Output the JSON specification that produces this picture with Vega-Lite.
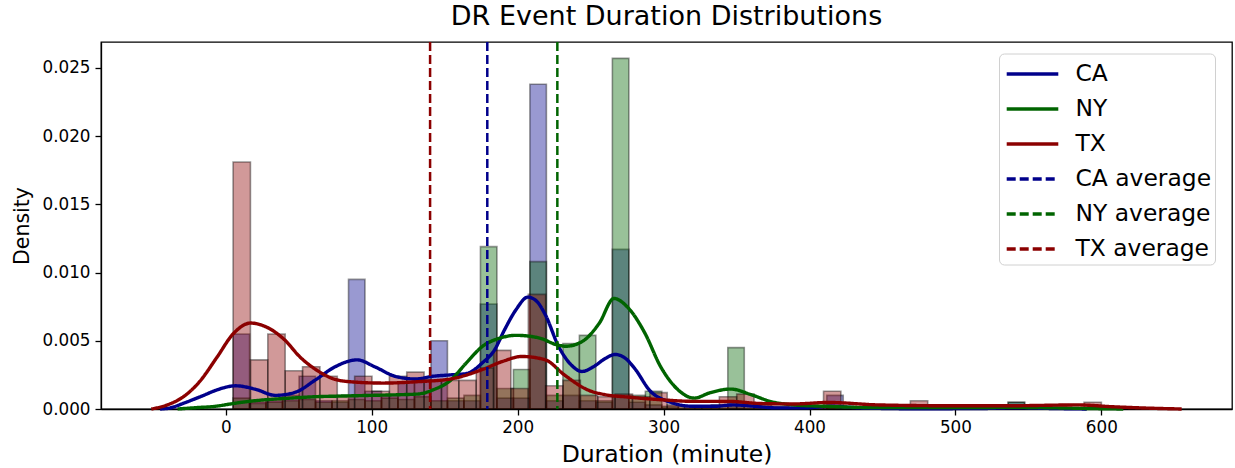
{
  "$schema": "https://vega.github.io/schema/vega-lite/v6.json",
  "width": 1131,
  "height": 367,
  "autosize": {"type": "none"},
  "padding": {"left": 101, "top": 42, "right": 3, "bottom": 59},
  "background": "white",
  "title": {"text": "DR Event Duration Distributions", "fontSize": 27, "font": "DejaVu Sans", "fontWeight": "normal", "color": "black", "anchor": "middle", "offset": 10},
  "config": {
    "view": {"stroke": "black", "strokeWidth": 1.3},
    "axis": {"grid": false, "domainColor": "black", "domainWidth": 1.3, "tickColor": "black", "tickWidth": 1.3, "tickSize": 6, "labelFont": "DejaVu Sans", "labelFontSize": 16.8, "labelColor": "black", "titleFont": "DejaVu Sans", "titleFontWeight": "normal", "titleColor": "black"},
    "legend": {"labelFont": "DejaVu Sans"}
  },
  "datasets": {
    "bars": [
      {"series": "CA", "lo": 5.0, "hi": 16.3, "density": 0.0055},
      {"series": "CA", "lo": 16.3, "hi": 27.6, "density": 0.0005},
      {"series": "CA", "lo": 27.6, "hi": 38.9, "density": 0.0006},
      {"series": "CA", "lo": 38.9, "hi": 50.2, "density": 0.0010},
      {"series": "CA", "lo": 50.2, "hi": 61.5, "density": 0.0024},
      {"series": "CA", "lo": 61.5, "hi": 72.8, "density": 0.0006},
      {"series": "CA", "lo": 72.8, "hi": 84.1, "density": 0.0005},
      {"series": "CA", "lo": 84.1, "hi": 95.4, "density": 0.0095},
      {"series": "CA", "lo": 95.4, "hi": 106.7, "density": 0.0013},
      {"series": "CA", "lo": 106.7, "hi": 118.0, "density": 0.0010},
      {"series": "CA", "lo": 118.0, "hi": 129.3, "density": 0.0020},
      {"series": "CA", "lo": 129.3, "hi": 140.6, "density": 0.0022},
      {"series": "CA", "lo": 140.6, "hi": 151.9, "density": 0.0050},
      {"series": "CA", "lo": 151.9, "hi": 163.2, "density": 0.0006},
      {"series": "CA", "lo": 163.2, "hi": 174.5, "density": 0.0006},
      {"series": "CA", "lo": 174.5, "hi": 185.8, "density": 0.0077},
      {"series": "CA", "lo": 185.8, "hi": 197.1, "density": 0.0008},
      {"series": "CA", "lo": 197.1, "hi": 208.4, "density": 0.0008},
      {"series": "CA", "lo": 208.4, "hi": 219.7, "density": 0.0238},
      {"series": "CA", "lo": 219.7, "hi": 231.0, "density": 0.0006},
      {"series": "CA", "lo": 231.0, "hi": 242.3, "density": 0.0010},
      {"series": "CA", "lo": 242.3, "hi": 253.6, "density": 0.0006},
      {"series": "CA", "lo": 253.6, "hi": 264.9, "density": 0.0005},
      {"series": "CA", "lo": 264.9, "hi": 276.2, "density": 0.0117},
      {"series": "CA", "lo": 276.2, "hi": 287.5, "density": 0.0005},
      {"series": "CA", "lo": 287.5, "hi": 298.8, "density": 0.0003},
      {"series": "CA", "lo": 298.8, "hi": 310.1, "density": 0.0001},
      {"series": "CA", "lo": 344.0, "hi": 355.3, "density": 0.0003},
      {"series": "CA", "lo": 411.8, "hi": 423.1, "density": 0.0010},
      {"series": "CA", "lo": 536.1, "hi": 547.4, "density": 0.0005},
      {"series": "NY", "lo": 5.0, "hi": 16.3, "density": 0.0008},
      {"series": "NY", "lo": 16.3, "hi": 27.6, "density": 0.0004},
      {"series": "NY", "lo": 27.6, "hi": 38.9, "density": 0.0005},
      {"series": "NY", "lo": 38.9, "hi": 50.2, "density": 0.0006},
      {"series": "NY", "lo": 50.2, "hi": 61.5, "density": 0.0007},
      {"series": "NY", "lo": 61.5, "hi": 72.8, "density": 0.0005},
      {"series": "NY", "lo": 72.8, "hi": 84.1, "density": 0.0006},
      {"series": "NY", "lo": 84.1, "hi": 95.4, "density": 0.0007},
      {"series": "NY", "lo": 95.4, "hi": 106.7, "density": 0.0006},
      {"series": "NY", "lo": 106.7, "hi": 118.0, "density": 0.0008},
      {"series": "NY", "lo": 118.0, "hi": 129.3, "density": 0.0007},
      {"series": "NY", "lo": 129.3, "hi": 140.6, "density": 0.0009},
      {"series": "NY", "lo": 140.6, "hi": 151.9, "density": 0.0006},
      {"series": "NY", "lo": 151.9, "hi": 163.2, "density": 0.0008},
      {"series": "NY", "lo": 163.2, "hi": 174.5, "density": 0.0010},
      {"series": "NY", "lo": 174.5, "hi": 185.8, "density": 0.0119},
      {"series": "NY", "lo": 185.8, "hi": 197.1, "density": 0.0015},
      {"series": "NY", "lo": 197.1, "hi": 208.4, "density": 0.0029},
      {"series": "NY", "lo": 208.4, "hi": 219.7, "density": 0.0108},
      {"series": "NY", "lo": 219.7, "hi": 231.0, "density": 0.0010},
      {"series": "NY", "lo": 231.0, "hi": 242.3, "density": 0.0048},
      {"series": "NY", "lo": 242.3, "hi": 253.6, "density": 0.0054},
      {"series": "NY", "lo": 253.6, "hi": 264.9, "density": 0.0006},
      {"series": "NY", "lo": 264.9, "hi": 276.2, "density": 0.0257},
      {"series": "NY", "lo": 276.2, "hi": 287.5, "density": 0.0010},
      {"series": "NY", "lo": 287.5, "hi": 298.8, "density": 0.0013},
      {"series": "NY", "lo": 298.8, "hi": 310.1, "density": 0.0002},
      {"series": "NY", "lo": 310.1, "hi": 321.4, "density": 0.0002},
      {"series": "NY", "lo": 321.4, "hi": 332.7, "density": 0.0002},
      {"series": "NY", "lo": 332.7, "hi": 344.0, "density": 0.0003},
      {"series": "NY", "lo": 344.0, "hi": 355.3, "density": 0.0045},
      {"series": "NY", "lo": 355.3, "hi": 366.6, "density": 0.0003},
      {"series": "NY", "lo": 366.6, "hi": 377.9, "density": 0.0001},
      {"series": "NY", "lo": 411.8, "hi": 423.1, "density": 0.0002},
      {"series": "NY", "lo": 536.1, "hi": 547.4, "density": 0.0005},
      {"series": "TX", "lo": 5.0, "hi": 16.9, "density": 0.0181},
      {"series": "TX", "lo": 16.9, "hi": 28.8, "density": 0.0036},
      {"series": "TX", "lo": 28.8, "hi": 40.7, "density": 0.0055},
      {"series": "TX", "lo": 40.7, "hi": 52.6, "density": 0.0028},
      {"series": "TX", "lo": 52.6, "hi": 64.5, "density": 0.0031},
      {"series": "TX", "lo": 64.5, "hi": 76.4, "density": 0.0024},
      {"series": "TX", "lo": 76.4, "hi": 88.3, "density": 0.0010},
      {"series": "TX", "lo": 88.3, "hi": 100.2, "density": 0.0024},
      {"series": "TX", "lo": 100.2, "hi": 112.1, "density": 0.0013},
      {"series": "TX", "lo": 112.1, "hi": 124.0, "density": 0.0024},
      {"series": "TX", "lo": 124.0, "hi": 135.9, "density": 0.0027},
      {"series": "TX", "lo": 135.9, "hi": 147.8, "density": 0.0021},
      {"series": "TX", "lo": 147.8, "hi": 159.7, "density": 0.0021},
      {"series": "TX", "lo": 159.7, "hi": 171.6, "density": 0.0021},
      {"series": "TX", "lo": 171.6, "hi": 183.5, "density": 0.0030},
      {"series": "TX", "lo": 183.5, "hi": 195.4, "density": 0.0043},
      {"series": "TX", "lo": 195.4, "hi": 207.3, "density": 0.0015},
      {"series": "TX", "lo": 207.3, "hi": 219.2, "density": 0.0084},
      {"series": "TX", "lo": 219.2, "hi": 231.1, "density": 0.0017},
      {"series": "TX", "lo": 231.1, "hi": 243.0, "density": 0.0021},
      {"series": "TX", "lo": 243.0, "hi": 254.9, "density": 0.0010},
      {"series": "TX", "lo": 254.9, "hi": 266.8, "density": 0.0009},
      {"series": "TX", "lo": 266.8, "hi": 278.7, "density": 0.0011},
      {"series": "TX", "lo": 278.7, "hi": 290.6, "density": 0.0009},
      {"series": "TX", "lo": 290.6, "hi": 302.5, "density": 0.0012},
      {"series": "TX", "lo": 302.5, "hi": 314.4, "density": 0.0003},
      {"series": "TX", "lo": 314.4, "hi": 326.3, "density": 0.0002},
      {"series": "TX", "lo": 326.3, "hi": 338.2, "density": 0.0002},
      {"series": "TX", "lo": 338.2, "hi": 350.1, "density": 0.0009},
      {"series": "TX", "lo": 350.1, "hi": 362.0, "density": 0.0011},
      {"series": "TX", "lo": 362.0, "hi": 373.9, "density": 0.0003},
      {"series": "TX", "lo": 373.9, "hi": 385.8, "density": 0.0002},
      {"series": "TX", "lo": 385.8, "hi": 397.7, "density": 0.0001},
      {"series": "TX", "lo": 397.7, "hi": 409.6, "density": 0.0002},
      {"series": "TX", "lo": 409.6, "hi": 421.5, "density": 0.0013},
      {"series": "TX", "lo": 421.5, "hi": 433.4, "density": 0.0001},
      {"series": "TX", "lo": 445.3, "hi": 457.2, "density": 0.0001},
      {"series": "TX", "lo": 469.1, "hi": 481.0, "density": 0.0006},
      {"series": "TX", "lo": 492.9, "hi": 504.8, "density": 0.0001},
      {"series": "TX", "lo": 516.7, "hi": 528.6, "density": 0.0001},
      {"series": "TX", "lo": 528.6, "hi": 540.5, "density": 0.0003},
      {"series": "TX", "lo": 540.5, "hi": 552.4, "density": 0.0002},
      {"series": "TX", "lo": 564.3, "hi": 576.2, "density": 0.0001},
      {"series": "TX", "lo": 588.1, "hi": 600.0, "density": 0.0005}
    ],
    "kde": [
      {"label": "CA", "x": -45, "density": 0.0},
      {"label": "CA", "x": -38, "density": 0.00008},
      {"label": "CA", "x": -28.5, "density": 0.00044},
      {"label": "CA", "x": -17, "density": 0.00092},
      {"label": "CA", "x": -6, "density": 0.0014},
      {"label": "CA", "x": 0, "density": 0.0016},
      {"label": "CA", "x": 7, "density": 0.0017},
      {"label": "CA", "x": 20, "density": 0.00146},
      {"label": "CA", "x": 34, "density": 0.0010},
      {"label": "CA", "x": 48, "density": 0.00124},
      {"label": "CA", "x": 61, "density": 0.0021},
      {"label": "CA", "x": 75, "density": 0.0031},
      {"label": "CA", "x": 90, "density": 0.0036},
      {"label": "CA", "x": 102, "density": 0.0031},
      {"label": "CA", "x": 116, "density": 0.0024},
      {"label": "CA", "x": 130, "density": 0.0022},
      {"label": "CA", "x": 142, "density": 0.0024},
      {"label": "CA", "x": 154, "density": 0.0025},
      {"label": "CA", "x": 165, "density": 0.0026},
      {"label": "CA", "x": 176, "density": 0.0034},
      {"label": "CA", "x": 184, "density": 0.0043},
      {"label": "CA", "x": 191, "density": 0.0058},
      {"label": "CA", "x": 199, "density": 0.0073},
      {"label": "CA", "x": 207, "density": 0.0082},
      {"label": "CA", "x": 213, "density": 0.0079},
      {"label": "CA", "x": 219, "density": 0.0069},
      {"label": "CA", "x": 228, "density": 0.0046},
      {"label": "CA", "x": 237, "density": 0.0032},
      {"label": "CA", "x": 244, "density": 0.00275},
      {"label": "CA", "x": 252, "density": 0.0031},
      {"label": "CA", "x": 260, "density": 0.0037},
      {"label": "CA", "x": 267, "density": 0.0040},
      {"label": "CA", "x": 274, "density": 0.0037},
      {"label": "CA", "x": 280, "density": 0.0030},
      {"label": "CA", "x": 291, "density": 0.0013},
      {"label": "CA", "x": 303, "density": 0.00056},
      {"label": "CA", "x": 320, "density": 0.0002},
      {"label": "CA", "x": 335, "density": 0.0002},
      {"label": "CA", "x": 348, "density": 0.0003},
      {"label": "CA", "x": 362, "density": 0.0002},
      {"label": "CA", "x": 378, "density": 0.00008},
      {"label": "CA", "x": 395, "density": 0.00008},
      {"label": "CA", "x": 415, "density": 0.0002},
      {"label": "CA", "x": 435, "density": 0.00008},
      {"label": "CA", "x": 470, "density": 0.00002},
      {"label": "CA", "x": 515, "density": 0.00003},
      {"label": "CA", "x": 541, "density": 0.00009},
      {"label": "CA", "x": 565, "density": 0.00004},
      {"label": "CA", "x": 590, "density": 0.0},
      {"label": "NY", "x": -33, "density": 0.0},
      {"label": "NY", "x": -20, "density": 0.0001},
      {"label": "NY", "x": -7, "density": 0.0002},
      {"label": "NY", "x": 5, "density": 0.0004},
      {"label": "NY", "x": 16, "density": 0.00056},
      {"label": "NY", "x": 30, "density": 0.0007},
      {"label": "NY", "x": 45, "density": 0.0008},
      {"label": "NY", "x": 61, "density": 0.0009},
      {"label": "NY", "x": 80, "density": 0.00095},
      {"label": "NY", "x": 100, "density": 0.001},
      {"label": "NY", "x": 120, "density": 0.00105},
      {"label": "NY", "x": 132, "density": 0.0011},
      {"label": "NY", "x": 142, "density": 0.0014},
      {"label": "NY", "x": 154, "density": 0.0021},
      {"label": "NY", "x": 165, "density": 0.0034},
      {"label": "NY", "x": 176, "density": 0.0046},
      {"label": "NY", "x": 188, "density": 0.0052},
      {"label": "NY", "x": 199, "density": 0.0054},
      {"label": "NY", "x": 215, "density": 0.0052},
      {"label": "NY", "x": 227, "density": 0.0047},
      {"label": "NY", "x": 233, "density": 0.0046},
      {"label": "NY", "x": 245, "density": 0.0050},
      {"label": "NY", "x": 256, "density": 0.0063},
      {"label": "NY", "x": 266, "density": 0.0081},
      {"label": "NY", "x": 275, "density": 0.0075},
      {"label": "NY", "x": 287, "density": 0.0056},
      {"label": "NY", "x": 298, "density": 0.0031},
      {"label": "NY", "x": 310, "density": 0.0014},
      {"label": "NY", "x": 321, "density": 0.0008},
      {"label": "NY", "x": 332, "density": 0.0012},
      {"label": "NY", "x": 346, "density": 0.00146},
      {"label": "NY", "x": 360, "density": 0.00105},
      {"label": "NY", "x": 373, "density": 0.00056},
      {"label": "NY", "x": 389, "density": 0.0003},
      {"label": "NY", "x": 410, "density": 0.0002},
      {"label": "NY", "x": 450, "density": 0.0001},
      {"label": "NY", "x": 500, "density": 0.0001},
      {"label": "NY", "x": 540, "density": 0.00012},
      {"label": "NY", "x": 570, "density": 0.00008},
      {"label": "NY", "x": 600, "density": 0.00002},
      {"label": "NY", "x": 615, "density": 0.0},
      {"label": "TX", "x": -51, "density": 0.0},
      {"label": "TX", "x": -40, "density": 0.0003},
      {"label": "TX", "x": -29, "density": 0.0009},
      {"label": "TX", "x": -18, "density": 0.0020},
      {"label": "TX", "x": -6, "density": 0.0038},
      {"label": "TX", "x": 5, "density": 0.0055},
      {"label": "TX", "x": 17, "density": 0.0063},
      {"label": "TX", "x": 28, "density": 0.0060},
      {"label": "TX", "x": 40, "density": 0.0051},
      {"label": "TX", "x": 51, "density": 0.0038},
      {"label": "TX", "x": 63, "density": 0.0028},
      {"label": "TX", "x": 74, "density": 0.0022},
      {"label": "TX", "x": 85, "density": 0.0020},
      {"label": "TX", "x": 108, "density": 0.0019},
      {"label": "TX", "x": 131, "density": 0.0020},
      {"label": "TX", "x": 154, "density": 0.0022},
      {"label": "TX", "x": 176, "density": 0.0029},
      {"label": "TX", "x": 190, "density": 0.0035},
      {"label": "TX", "x": 203, "density": 0.00385},
      {"label": "TX", "x": 219, "density": 0.0036},
      {"label": "TX", "x": 232, "density": 0.0025},
      {"label": "TX", "x": 248, "density": 0.0014},
      {"label": "TX", "x": 260, "density": 0.00105},
      {"label": "TX", "x": 275, "density": 0.00088},
      {"label": "TX", "x": 298, "density": 0.00068},
      {"label": "TX", "x": 321, "density": 0.00056},
      {"label": "TX", "x": 344, "density": 0.00056},
      {"label": "TX", "x": 367, "density": 0.0004},
      {"label": "TX", "x": 389, "density": 0.00037},
      {"label": "TX", "x": 413, "density": 0.00048},
      {"label": "TX", "x": 447, "density": 0.0003},
      {"label": "TX", "x": 493, "density": 0.00024},
      {"label": "TX", "x": 538, "density": 0.00024},
      {"label": "TX", "x": 584, "density": 0.0003},
      {"label": "TX", "x": 607, "density": 0.00017},
      {"label": "TX", "x": 630, "density": 0.00007},
      {"label": "TX", "x": 655, "density": 0.0}
    ],
    "avg": [
      {"label": "CA average", "avg": 179.2},
      {"label": "NY average", "avg": 227.2},
      {"label": "TX average", "avg": 140.0}
    ]
  },
  "layer": [
    {
      "data": {"name": "bars"},
      "mark": {"type": "bar", "fillOpacity": 0.4, "stroke": "black", "strokeOpacity": 0.4, "strokeWidth": 1.6},
      "encoding": {
        "x": {"field": "lo", "type": "quantitative", "scale": {"domain": [-85.5, 689.5], "nice": false, "zero": false},
              "axis": {"values": [0, 100, 200, 300, 400, 500, 600], "title": "Duration (minute)", "titleFontSize": 23.5, "labelPadding": 4, "titlePadding": 7}},
        "x2": {"field": "hi"},
        "y": {"field": "density", "type": "quantitative", "scale": {"domain": [0, 0.0269], "nice": false},
              "axis": {"values": [0, 0.005, 0.01, 0.015, 0.02, 0.025], "format": ".3f", "title": "Density", "titleFontSize": 20.5, "labelPadding": 5, "titlePadding": 9}},
        "y2": {"datum": 0},
        "fill": {"field": "series", "type": "nominal", "scale": {"domain": ["CA", "NY", "TX"], "range": ["#00008b", "#006400", "#8b0000"]}, "legend": null}
      }
    },
    {
      "data": {"name": "kde"},
      "mark": {"type": "line", "strokeWidth": 3.4, "interpolate": "monotone"},
      "encoding": {
        "x": {"field": "x", "type": "quantitative"},
        "y": {"field": "density", "type": "quantitative"},
        "stroke": {"field": "label", "type": "nominal"},
        "strokeDash": {"field": "label", "type": "nominal"}
      }
    },
    {
      "data": {"name": "avg"},
      "mark": {"type": "rule", "strokeWidth": 2.5},
      "encoding": {
        "x": {"field": "avg", "type": "quantitative"},
        "stroke": {"field": "label", "type": "nominal",
                   "scale": {"domain": ["CA", "NY", "TX", "CA average", "NY average", "TX average"], "range": ["#00008b", "#006400", "#8b0000", "#00008b", "#006400", "#8b0000"]},
                   "legend": {"title": null, "orient": "none", "legendX": 898, "legendY": 11.5, "padding": 3.5, "strokeColor": "#d0d0d0", "cornerRadius": 5, "fillColor": "white", "labelFontSize": 23.4, "labelColor": "black", "labelLimit": 0, "symbolType": "M-1.72,0H1.72", "symbolSize": 900, "symbolStrokeWidth": 3.4, "rowPadding": 6, "symbolOffset": 13, "labelOffset": 26}},
        "strokeDash": {"field": "label", "type": "nominal",
                       "scale": {"domain": ["CA", "NY", "TX", "CA average", "NY average", "TX average"], "range": [[1, 0], [1, 0], [1, 0], [9, 4], [9, 4], [9, 4]]},
                       "legend": {"title": null, "orient": "none", "legendX": 898, "legendY": 11.5, "padding": 3.5, "strokeColor": "#d0d0d0", "cornerRadius": 5, "fillColor": "white", "labelFontSize": 23.4, "labelColor": "black", "labelLimit": 0, "symbolType": "M-1.72,0H1.72", "symbolSize": 900, "symbolStrokeWidth": 3.4, "rowPadding": 6, "symbolOffset": 13, "labelOffset": 26}}
      }
    }
  ]
}
